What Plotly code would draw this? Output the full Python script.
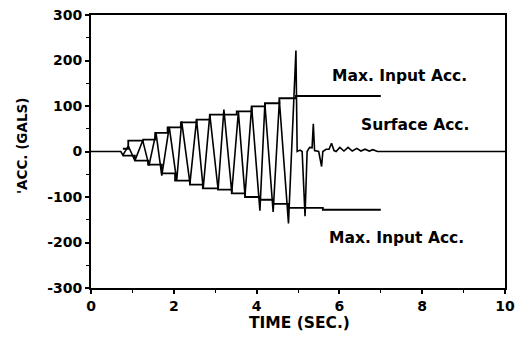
import plotly.graph_objects as go

# Surface acceleration (time in s, acceleration in gals) - vertices
surf_t = [0.0, 0.72, 0.77, 0.83, 0.90, 1.06, 1.25, 1.40, 1.57, 1.71, 1.89, 2.07, 2.19,
          2.39, 2.55, 2.71, 2.87, 3.07, 3.21, 3.40, 3.56, 3.72, 3.88, 4.08, 4.20,
          4.40, 4.55, 4.77, 4.95, 4.98, 5.05, 5.10, 5.17, 5.22, 5.28, 5.34, 5.37,
          5.40, 5.50, 5.57, 5.60, 5.68, 5.75, 5.81, 5.87, 5.92, 6.01, 6.11, 6.21,
          6.31, 6.42, 6.52, 6.62, 6.72, 6.81, 6.92, 10.0]
surf_a = [0, 0, -8, 2, 12, -20, 24, -31, 41, -53, 54, -64, 66,
          -70, 70, -81, 81, -84, 92, -90, 87, -97, 99, -130, 105,
          -133, 112, -158, 222, 0, 3, 0, -142, 0, 9, 8, 61,
          2, 0, -33, 0, 5, 5, 18, 2, 0, 9, 1, 9,
          1, 7, 1, 5, 1, 4, 0, 0]

# Max. input acceleration envelopes (step levels)
up_t = [0.77, 0.90, 1.26, 1.55, 1.85, 2.17, 2.55, 2.87, 3.21, 3.52, 3.88, 4.20, 4.55, 4.95, 7.0]
up_a = [6, 24, 26, 41, 53, 64, 70, 81, 81, 88, 99, 106, 117, 122, 122]
lo_t = [0.77, 1.06, 1.38, 1.71, 2.03, 2.39, 2.70, 3.07, 3.40, 3.72, 4.08, 4.40, 4.76, 5.60, 7.0]
lo_a = [-9, -20, -29, -48, -64, -73, -81, -84, -92, -100, -106, -115, -124, -128, -128]

x_ticks = [0, 2, 4, 6, 8, 10]
y_ticks = [-300, -200, -100, 0, 100, 200, 300]

FONT = "DejaVu Sans"

fig = go.Figure()
fig.add_trace(go.Scatter(x=surf_t, y=surf_a, mode="lines",
                         line=dict(color="black", width=1.6), showlegend=False))
fig.add_trace(go.Scatter(x=up_t, y=up_a, mode="lines", line_shape="hv",
                         line=dict(color="black", width=1.8), showlegend=False))
fig.add_trace(go.Scatter(x=lo_t, y=lo_a, mode="lines", line_shape="hv",
                         line=dict(color="black", width=1.8), showlegend=False))

tickfont = dict(family=FONT, size=14, color="black", weight="bold")
fig.update_xaxes(range=[0, 10], tickvals=x_ticks, ticktext=[str(v) for v in x_ticks],
                 ticks="outside", ticklen=4, tickwidth=1.5, tickcolor="black",
                 minor=dict(dtick=1, ticks="outside", ticklen=3, tickcolor="black", tickwidth=1.2),
                 showline=True, linecolor="black", linewidth=2, mirror=True,
                 showgrid=False, zeroline=False, tickfont=tickfont, automargin=False)
fig.update_yaxes(range=[-300, 300], tickvals=y_ticks, ticktext=[str(v) for v in y_ticks],
                 ticks="outside", ticklen=4, tickwidth=1.5, tickcolor="black",
                 minor=dict(dtick=50, ticks="outside", ticklen=3, tickcolor="black", tickwidth=1.2),
                 showline=True, linecolor="black", linewidth=2, mirror=True,
                 showgrid=False, zeroline=False, tickfont=tickfont, automargin=False)

afont = dict(family=FONT, size=15.5, color="black", weight="bold")
fig.add_annotation(x=7.46, y=165, text="Max. Input Acc.", showarrow=False, font=afont)
fig.add_annotation(x=7.83, y=59, text="Surface Acc.", showarrow=False, font=afont)
fig.add_annotation(x=7.38, y=-190, text="Max. Input Acc.", showarrow=False, font=afont)

fig.add_annotation(xref="paper", yref="paper", x=0.5036, y=-0.128, text="TIME (SEC.)",
                   showarrow=False, xanchor="center", yanchor="middle",
                   font=dict(family=FONT, size=15.5, color="black", weight="bold"))
fig.add_annotation(xref="paper", yref="paper", x=-0.1667, y=0.52, text="'ACC. (GALS)",
                   textangle=-90, showarrow=False, xanchor="center", yanchor="middle",
                   font=dict(family=FONT, size=13.5, color="black", weight="bold"))

fig.update_layout(width=523, height=341, margin=dict(l=91, r=18, t=15, b=53),
                  paper_bgcolor="white", plot_bgcolor="white")
# remove the page's default 8px body margin so the figure sits at the window origin
fig.write_html("out.html", config={"displayModeBar": False},
               post_script="document.body.style.margin='0px';")
